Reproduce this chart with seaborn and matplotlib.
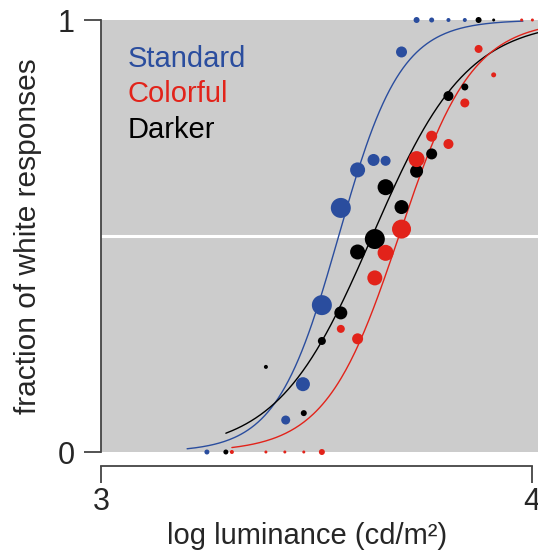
import matplotlib
matplotlib.use("Agg")
import matplotlib.pyplot as plt
import seaborn as sns
import numpy as np

# data (log luminance, fraction "white", marker diameter in px)
std_x = [3.246, 3.429, 3.469, 3.513, 3.557, 3.596, 3.633, 3.661, 3.698, 3.733, 3.768, 3.807, 3.845]
std_y = [0.0, 0.074, 0.157, 0.340, 0.565, 0.653, 0.676, 0.674, 0.926, 1.0, 1.0, 1.0, 1.0]
std_d = [5, 9, 14, 20, 20, 15, 12, 10, 11, 6, 5, 4, 4]

col_x = [3.304, 3.383, 3.427, 3.471, 3.513, 3.557, 3.596, 3.636, 3.661, 3.698, 3.733, 3.768,
         3.807, 3.845, 3.877, 3.912, 3.977, 4.002]
col_y = [0.0, 0.0, 0.0, 0.0, 0.0, 0.285, 0.262, 0.403, 0.461, 0.516, 0.678, 0.731,
         0.713, 0.808, 0.933, 0.873, 1.0, 1.0]
col_d = [4, 3, 3, 3, 6, 8, 11, 15, 16, 19, 16, 11, 10, 9, 8, 5, 3, 3]

dark_x = [3.290, 3.383, 3.471, 3.513, 3.557, 3.596, 3.636, 3.661, 3.698, 3.733, 3.768,
          3.807, 3.845, 3.877, 3.912]
dark_y = [0.0, 0.197, 0.090, 0.257, 0.322, 0.463, 0.493, 0.613, 0.567, 0.650, 0.690,
          0.824, 0.845, 1.0, 1.0]
dark_d = [5, 4, 6, 8, 13, 15, 20, 16, 14, 13, 11, 10, 7, 6, 3]

# fitted psychometric curves: (midpoint, slope scale, x range)
std_fit = (3.552, 0.072, 3.20, 3.98)
col_fit = (3.692, 0.085, 3.304, 4.015)
dark_fit = (3.630, 0.110, 3.29, 4.015)

blue = "#2a4d9e"
red = "#e2231a"
black = "#000000"

sns.set_style("ticks")
plt.rcParams["font.family"] = ["Liberation Sans", "DejaVu Sans"]

fig = plt.figure(figsize=(5.38, 5.54), dpi=100)
ax = fig.add_axes([101 / 538, 1 - 452 / 554, 437 / 538, 432 / 554])
ax.set_facecolor("#cccccc")

ax.axhline(0.5, color="white", lw=2.2, zorder=1)


def curve(fit):
    mu, s, lo, hi = fit
    xs = np.linspace(lo, hi, 200)
    return xs, 1 / (1 + np.exp(-(xs - mu) / s))


for fit, c in [(std_fit, blue), (dark_fit, black), (col_fit, red)]:
    xs, ys = curve(fit)
    sns.lineplot(x=xs, y=ys, color=c, lw=1.0, ax=ax, zorder=2)

for xv, yv, d, c in [(std_x, std_y, std_d, blue),
                     (dark_x, dark_y, dark_d, black),
                     (col_x, col_y, col_d, red)]:
    sizes = (np.array(d) * 0.72) ** 2
    ax.scatter(xv, yv, s=sizes, color=c, edgecolors="none", zorder=3, clip_on=False)

ax.set_xlim(3, 4.015)
ax.set_ylim(0, 1)

sns.despine(ax=ax)
for sp in ["left", "bottom"]:
    ax.spines[sp].set_color("#444444")
    ax.spines[sp].set_linewidth(1.3)
ax.spines["bottom"].set_position(("outward", 10))
ax.spines["bottom"].set_bounds(3, 4)

ax.set_xticks([3, 4])
ax.set_xticklabels(["3", "4"])
ax.set_yticks([0, 1])
ax.set_yticklabels(["0", "1"])
ax.tick_params(axis="both", direction="out", length=12, width=1.3, color="#444444",
               labelsize=22)
ax.tick_params(axis="x", pad=3)
ax.tick_params(axis="y", pad=7)

ax.set_xlabel("log luminance (cd/m²)", fontsize=21)
ax.xaxis.set_label_coords(0.471, -0.163)
ax.set_ylabel("fraction of white responses", fontsize=21.5)
ax.yaxis.set_label_coords(-0.135, 0.5)

ax.text(0.06, 0.891, "Standard", color=blue, fontsize=21, transform=ax.transAxes, va="baseline")
ax.text(0.06, 0.810, "Colorful", color=red, fontsize=21, transform=ax.transAxes, va="baseline")
ax.text(0.06, 0.727, "Darker", color=black, fontsize=21, transform=ax.transAxes, va="baseline")

fig.savefig("out.png", dpi=100)
